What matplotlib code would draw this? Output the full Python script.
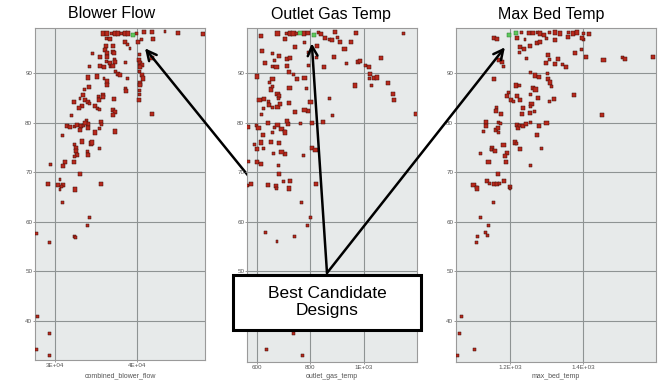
import numpy as np
import matplotlib
matplotlib.use("Agg")
import matplotlib.pyplot as plt
from matplotlib.patches import Rectangle

plt.rcParams["font.family"] = ["Liberation Sans", "DejaVu Sans"]

# ---- data ----
blower_x = [35860, 36260, 36870, 37270, 37680, 38080, 38480, 38890, 39900, 40790, 41720, 43330, 44950, 47980,
            36260, 36670, 40100, 40500, 41920, 38480, 38770, 36180, 37070, 39090, 36060, 37070, 34570, 36260,
            37190, 40220, 35450, 36340, 37270, 40220, 41720, 36260, 36670, 37270, 38560, 40300, 40500, 34160,
            35450, 35940, 36670, 37070, 40300, 37390, 37680, 37880, 40220, 40500, 35130, 35940, 36260, 33960,
            38770, 40630, 40300, 33560, 34160, 36340, 38600, 38600, 40300, 40220, 33430, 35860, 35250, 35780,
            37150, 40220, 40220, 32300, 33030, 33640, 33960, 34240, 33230, 34850, 35170, 35330, 32910, 35450,
            37070, 37270, 32020, 36990, 41720, 33840, 33960, 35530, 35660, 31410, 31820, 32420, 32710, 33110,
            33430, 33640, 34040, 35450, 37270, 33030, 30930, 34850, 33230, 32420, 34320, 34440, 35450, 32550,
            32550, 33920, 32630, 34040, 32420, 31210, 32300, 29470, 31010, 33030, 30610, 30400, 31010, 30810,
            29110, 35530, 30610, 32420, 27780, 29390, 30890, 32420, 32460, 33960, 34160, 27860, 29310, 27780,
            29390]
blower_y = [98.0, 98.0, 98.0, 98.0, 98.0, 98.0, 98.0, 98.0, 98.0, 98.3, 98.3, 98.3, 98.1, 97.9,
            97.0, 96.8, 96.3, 96.8, 96.8, 96.2, 95.8, 95.4, 95.5, 95.0, 94.6, 94.3, 94.0, 94.0,
            94.1, 93.8, 93.3, 93.2, 92.8, 92.6, 93.0, 92.3, 92.1, 92.3, 92.1, 92.1, 91.6, 91.3,
            91.4, 91.3, 91.3, 91.4, 91.3, 90.3, 89.9, 89.6, 90.3, 89.6, 89.3, 88.9, 88.3, 89.1,
            88.9, 88.9, 87.9, 86.6, 87.2, 87.6, 86.9, 86.4, 87.6, 86.4, 85.6, 85.6, 85.2, 85.2,
            84.7, 85.7, 84.6, 84.2, 84.9, 84.6, 84.2, 83.9, 83.4, 83.4, 82.9, 84.6, 82.9, 82.6,
            82.6, 82.2, 81.5, 81.5, 81.7, 80.4, 79.7, 80.2, 79.7, 79.3, 79.2, 79.3, 79.5, 79.3,
            79.5, 80.0, 78.9, 78.9, 78.2, 78.5, 77.5, 78.0, 76.2, 75.5, 75.8, 76.0, 74.8, 74.8,
            74.2, 74.2, 73.5, 73.5, 73.2, 72.1, 72.1, 71.6, 71.3, 69.7, 68.5, 67.5, 67.5, 67.1,
            67.7, 67.6, 66.5, 66.5, 57.7, 55.9, 63.8, 57.0, 56.8, 59.2, 60.9, 40.8, 37.5, 34.3,
            33.0]
blower_best_x = [39490]
blower_best_y = [97.7]

outlet_x = [616, 677, 711, 724, 737, 749, 775, 791, 829, 838, 854, 872, 882, 892, 901, 910, 971, 1146,
            705, 741, 778, 825, 619, 794, 927, 952, 657, 682,
            629, 667, 711, 724, 657, 673, 711, 822, 852, 889, 935, 977, 984, 1006, 1019, 1062, 791,
            601, 720, 737, 749, 778, 648, 658, 1022, 1019, 1037, 1049, 1028, 1089, 965, 784, 722,
            652, 657, 677, 684, 680, 610, 625, 642, 1108, 1113, 870, 800,
            646, 657, 677, 686, 623, 720, 741, 616, 791, 778, 882, 1195,
            566, 597, 606, 642, 665, 677, 692, 703, 715, 711, 657, 623, 705, 762, 806, 847,
            591, 616, 601, 623, 652, 682, 661, 705, 692, 775, 806, 819,
            568, 601, 614, 682, 682, 724, 699, 670, 642, 566, 578, 822,
            673, 720, 768, 800, 790, 633, 675, 741, 737, 635, 772]
outlet_y = [97.5, 98.0, 98.0, 98.0, 98.0, 98.0, 98.0, 98.1, 98.1, 97.9, 97.0, 96.8, 96.7, 98.3, 97.2, 96.3, 98.1, 97.9,
            96.8, 95.3, 96.1, 95.5, 94.5, 94.1, 94.8, 96.2, 93.9, 93.5,
            92.1, 92.5, 92.8, 93.0, 91.3, 91.3, 91.5, 93.2, 91.3, 93.2, 92.0, 92.2, 92.5, 91.6, 91.3, 93.0, 91.5,
            89.3, 90.3, 89.7, 88.8, 89.0, 88.1, 88.8, 89.9, 89.0, 89.0, 89.1, 87.5, 88.0, 87.5, 86.8, 87.0,
            86.7, 87.2, 85.7, 85.3, 84.8, 84.5, 84.8, 84.3, 85.7, 84.5, 84.8, 84.1,
            83.5, 83.0, 83.2, 83.7, 82.8, 84.0, 82.1, 81.7, 82.3, 82.5, 81.5, 81.7,
            79.1, 79.5, 79.0, 80.0, 79.0, 79.5, 78.7, 78.3, 79.7, 80.3, 78.1, 77.5, 78.0, 79.8, 79.9, 80.1,
            75.5, 76.0, 74.7, 74.8, 76.1, 75.9, 73.8, 73.7, 74.1, 73.3, 74.9, 74.5,
            72.1, 72.0, 71.7, 71.3, 69.7, 68.3, 68.1, 67.3, 67.4, 67.4, 67.6, 67.6,
            66.7, 66.7, 63.8, 60.9, 59.2, 57.8, 56.0, 57.0, 37.5, 34.3, 33.0]
outlet_best_x = [762, 813]
outlet_best_y = [98.1, 97.7]

bed_x = [1155, 1164, 1232, 1253, 1264, 1275, 1282, 1293, 1309, 1323, 1338, 1359, 1373, 1384, 1402, 1416,
         1218, 1241, 1273, 1282, 1300, 1323, 1359, 1402, 1398,
         1227, 1225, 1255, 1238, 1244, 1171, 1177, 1182, 1305, 1298, 1309, 1332, 1323, 1344, 1353, 1377,
         1395, 1409, 1456, 1507, 1514, 1591,
         1255, 1268, 1280, 1302, 1305, 1309, 1314, 1157, 1216, 1227, 1264, 1270,
         1195, 1191, 1202, 1209, 1218, 1227, 1255, 1277, 1259, 1309, 1320, 1375, 1164, 1162,
         1236, 1256, 1232, 1255, 1268, 1175, 1453, 1168, 1135, 1135, 1127, 1162, 1168, 1175, 1218, 1223,
         1227, 1236, 1244, 1255, 1280, 1300, 1168,
         1275, 1214, 1218, 1182, 1150, 1148, 1160, 1227, 1286, 1191, 1186, 1118, 1189, 1141, 1256,
         1166, 1138, 1145, 1155, 1164, 1171, 1184, 1100, 1109, 1200,
         1109, 1200, 1156, 1120, 1141, 1134, 1138, 1112, 1109, 1068, 1062, 1102, 1057]
bed_y = [97.0, 96.8, 98.2, 98.1, 98.1, 98.2, 98.0, 97.7, 98.1, 98.2, 98.0, 98.1, 98.0, 98.2, 97.9, 97.9,
         97.0, 96.7, 96.1, 96.3, 97.0, 96.7, 97.2, 96.8, 97.0,
         95.3, 94.1, 95.5, 94.8, 93.0, 92.7, 92.3, 91.3, 93.7, 92.1, 92.7, 92.9, 91.9, 91.7, 91.3, 94.0,
         94.7, 93.3, 92.7, 93.2, 92.8, 93.2,
         90.1, 89.5, 89.2, 89.9, 88.8, 88.1, 87.2, 88.8, 87.5, 87.5, 87.0, 86.7,
         86.0, 85.3, 84.5, 84.3, 85.3, 84.5, 85.7, 85.0, 83.7, 84.3, 84.8, 85.5, 83.0, 82.3,
         83.0, 83.2, 81.7, 82.0, 82.2, 81.7, 81.5, 80.0, 80.1, 79.3, 78.3, 78.5, 79.0, 79.9, 79.5, 79.0,
         79.5, 79.3, 79.7, 80.1, 79.3, 79.9, 78.1,
         77.5, 76.0, 75.7, 75.5, 74.8, 74.5, 74.3, 74.7, 74.8, 73.8, 73.3, 73.7, 72.1, 72.1, 71.3,
         69.7, 68.3, 67.7, 67.7, 67.7, 67.7, 68.3, 67.5, 67.0, 67.0,
         66.7, 66.7, 63.8, 60.9, 59.2, 57.8, 57.2, 57.0, 55.9, 40.8, 37.5, 34.3, 33.0]
bed_best_x = [1198, 1216]
bed_best_y = [97.7, 98.1]

titles = ["Blower Flow", "Outlet Gas Temp", "Max Bed Temp"]
xlabels = ["combined_blower_flow", "outlet_gas_temp", "max_bed_temp"]
xtick_vals = [[30000, 40000], [600, 800, 1000], [1200, 1400]]
xtick_labels = [["3E+04", "4E+04"], ["600", "800", "1E+03"], ["1.2E+03", "1.4E+03"]]
ytick_vals = [40, 50, 60, 70, 80, 90]

# ---- layout ----
W, H = 660, 380
fig = plt.figure(figsize=(6.6, 3.8), dpi=100)

panels = [
    (blower_x, blower_y, blower_best_x, blower_best_y, (35, 28, 205, 360), (27580, 48180), (32.1, 99.1)),
    (outlet_x, outlet_y, outlet_best_x, outlet_best_y, (247, 28, 417, 362), (563, 1198), (31.7, 99.1)),
    (bed_x, bed_y, bed_best_x, bed_best_y, (456, 28, 656, 362), (1052, 1600), (31.7, 99.1)),
]
title_cx = [112, 331, 551]
arrow_tips = [(40910, 95.0), (805, 96.0), (1186, 95.2)]

axes = []
for i, (xs, ys, bx, by, box, xl, yl) in enumerate(panels):
    l, t, r, b = box
    ax = fig.add_axes([l / W, (H - b) / H, (r - l) / W, (b - t) / H])
    ax.set_facecolor("#e7eaea")
    xs = np.array(xs); ys = np.array(ys)
    n = len(xs)
    sizes = np.where((np.arange(n) % 3 == 2) | (ys < 66), 4.5, 9)
    ax.scatter(xs, ys, s=sizes, marker="s", c="#b8291d", edgecolors="#3a0d08",
               linewidths=0.35, zorder=3)
    ax.scatter(bx, by, s=9, marker="s", c="#5cc85c", edgecolors="#2f7a2f",
               linewidths=0.35, zorder=4)
    ax.set_xlim(*xl)
    ax.set_ylim(*yl)
    ax.set_xticks(xtick_vals[i])
    ax.set_xticklabels(xtick_labels[i])
    ax.set_yticks(ytick_vals)
    ax.grid(True, color="#8e9393", linewidth=0.8, zorder=1)
    ax.set_axisbelow(True)
    ax.tick_params(labelsize=4.5, labelcolor="#555555", color="#888888", length=1.5, width=0.6, pad=0.5)
    for sp in ax.spines.values():
        sp.set_color("#9a9a9a")
        sp.set_linewidth(0.8)
    ax.set_xlabel(xlabels[i], fontsize=5, color="#555555")
    ax.xaxis.set_label_coords(0.5, -(380 - b - 7.5) / (b - t))
    fig.text(title_cx[i] / W, 1 - 14 / H, titles[i], ha="center", va="center", fontsize=11.5)
    axes.append(ax)

# callout box
fig.patches.append(Rectangle((233 / W, 1 - 330 / H), 188 / W, 55 / H, transform=fig.transFigure,
                             facecolor="white", edgecolor="black", linewidth=2.2, zorder=10))
fig.text(327 / W, 1 - 302 / H, "Best Candidate\nDesigns", ha="center", va="center",
         fontsize=12.5, linespacing=1.15, zorder=11)

origin = (327 / W, 1 - 273 / H)
for ax, tip in zip(axes, arrow_tips):
    ax.annotate("", xy=tip, xycoords="data", xytext=origin, textcoords="figure fraction",
                arrowprops=dict(arrowstyle="->,head_length=0.7,head_width=0.35", color="black",
                                linewidth=1.8, shrinkA=0, shrinkB=0),
                annotation_clip=False, zorder=9)

fig.savefig("out.png", dpi=100)
